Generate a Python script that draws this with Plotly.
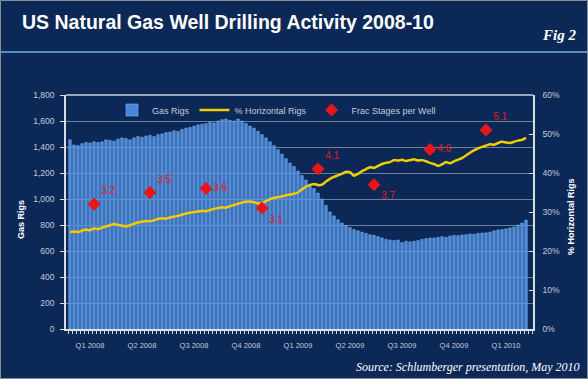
import plotly.graph_objects as go

# ---------------- data ----------------
gas_rigs = [1455, 1415, 1410, 1425, 1435, 1430, 1440, 1435, 1440, 1455,
            1450, 1445, 1460, 1470, 1465, 1455, 1470, 1480, 1475, 1485,
            1490, 1480, 1495, 1500, 1510, 1515, 1525, 1520, 1535, 1545,
            1550, 1560, 1570, 1575, 1580, 1590, 1585, 1600, 1610, 1615,
            1605, 1600, 1615, 1600, 1580, 1560, 1545, 1520, 1495, 1470,
            1440, 1410, 1380, 1345, 1310, 1277, 1250, 1215, 1180, 1146,
            1115, 1080, 1046, 1000, 950, 900, 870, 840, 815, 795,
            780, 765, 755, 745, 735, 725, 720, 710, 700, 690,
            685, 680, 685, 665, 675, 670, 675, 680, 690, 695,
            700, 700, 705, 710, 705, 715, 720, 718, 723, 725,
            730, 728, 735, 738, 740, 745, 755, 762, 765, 770,
            777, 785, 800, 815, 838]

pct_horizontal = [24.9, 25.0, 24.8, 25.2, 25.5, 25.3, 25.8, 25.6, 26.0, 26.3,
                  26.6, 26.9, 26.7, 26.5, 26.3, 26.6, 27.0, 27.3, 27.5, 27.7,
                  27.6, 27.9, 28.2, 28.4, 28.3, 28.6, 28.8, 29.0, 29.3, 29.6,
                  29.8, 30.0, 30.1, 30.3, 30.2, 30.5, 30.8, 31.0, 31.2, 31.1,
                  31.5, 31.8, 32.1, 32.4, 32.6, 32.7, 32.5, 32.2, 32.3, 32.8,
                  33.3, 33.6, 33.8, 34.0, 34.3, 34.5, 34.7, 35.0, 35.8, 36.5,
                  36.9, 37.2, 36.9, 37.0, 37.8, 38.5, 39.0, 39.4, 39.8, 40.3,
                  40.2, 39.3, 39.8, 40.5, 41.0, 41.5, 41.3, 41.8, 42.3, 42.6,
                  42.8, 43.3, 43.2, 43.4, 43.1, 43.3, 43.5, 43.2, 43.3, 43.0,
                  42.6, 42.3, 41.8, 42.2, 42.8, 42.5, 43.0, 43.4, 43.8, 44.5,
                  45.2, 45.8, 46.3, 46.7, 47.0, 47.4, 47.2, 47.7, 48.0, 47.8,
                  47.7, 48.0, 48.3, 48.5, 49.0]

frac_weeks = [6, 20, 34, 48, 62, 76, 90, 104]
frac_stages = [3.2, 3.5, 3.6, 3.1, 4.1, 3.7, 4.6, 5.1]
frac_text_pos = ["top right", "top right", "middle right", "bottom right",
                 "top right", "bottom right", "middle right", "top right"]

quarter_weeks = [5, 18, 31, 44, 57, 70, 83, 96, 109]
quarter_labels = ["Q1 2008", "Q2 2008", "Q3 2008", "Q4 2008", "Q1 2009",
                  "Q2 2009", "Q3 2009", "Q4 2009", "Q1 2010"]

left_ticks = list(range(0, 1801, 200))
right_ticks = list(range(0, 61, 10))
right_labels = [f"{v}%" for v in right_ticks]

weeks = list(range(len(gas_rigs)))

# ---------------- layout geometry ----------------
W, H = 588, 379
L, R, T, B = 66, 55, 95, 50
PW, PH = W - L - R, H - T - B


def px(x):
    return (x - L) / PW


def py(y):
    return (H - B - y) / PH


BG = "#0c2857"
TICK = "#c4ccd8"
SANS = "Liberation Sans, Arial, sans-serif"
SERIF = "Liberation Serif, Times New Roman, serif"

fig = go.Figure()

fig.add_trace(go.Bar(
    x=weeks, y=gas_rigs, name="Gas Rigs",
    marker=dict(color="#4687da", line=dict(color="#7db2f2", width=0.6)),
    yaxis="y",
))
fig.add_trace(go.Scatter(
    x=weeks, y=pct_horizontal, name="% Horizontal Rigs", mode="lines",
    line=dict(color="#f3cc00", width=2.5, shape="spline", smoothing=0.4),
    yaxis="y2",
))
fig.add_trace(go.Scatter(
    x=frac_weeks, y=frac_stages, name="Frac Stages per Well",
    mode="markers+text",
    marker=dict(symbol="diamond", color="#e8161a", size=10),
    text=[f"{v:.1f}" for v in frac_stages],
    textposition=frac_text_pos,
    textfont=dict(color="#e8161a", size=10, family=SANS),
    yaxis="y3",
))

fig.update_layout(
    width=W, height=H,
    margin=dict(l=L, r=R, t=T, b=B),
    paper_bgcolor=BG, plot_bgcolor=BG,
    bargap=0.38,
    showlegend=True,
    legend=dict(
        orientation="h", x=px(112), y=py(110), xanchor="left", yanchor="middle",
        bgcolor="rgba(0,0,0,0)", font=dict(color=TICK, size=9, family=SANS),
        itemwidth=30,
    ),
    xaxis=dict(
        range=[-1, 115.75], showgrid=False, zeroline=False,
        tickmode="array", tickvals=quarter_weeks, ticktext=quarter_labels,
        ticks="", tickfont=dict(color=TICK, size=7.5, family=SANS),
        ticklabelstandoff=8,
        showline=True, linecolor="#d8dee6", linewidth=1.5,
        minor=dict(tickmode="linear", tick0=-0.5, dtick=1, ticks="outside",
                   ticklen=3, tickcolor="#d8dee6", showgrid=False),
    ),
    yaxis=dict(
        range=[0, 1800], tickmode="array", tickvals=left_ticks,
        tickformat=",d", showgrid=True, gridcolor="#6a7f95", gridwidth=1,
        zeroline=False, showline=True, linecolor="#d8dee6", linewidth=1.5,
        ticks="outside", ticklen=4, tickcolor="#d8dee6", ticklabelstandoff=4,
        tickfont=dict(color=TICK, size=8.5, family=SANS),
    ),
    yaxis2=dict(
        range=[0, 60], tickmode="array", tickvals=right_ticks, ticktext=right_labels,
        overlaying="y", side="right", showgrid=False, zeroline=False,
        showline=True, linecolor="#d8dee6", linewidth=1.5,
        ticks="inside", ticklen=4, tickcolor="#d8dee6", ticklabelstandoff=6,
        tickfont=dict(color=TICK, size=8.5, family=SANS),
    ),
    yaxis3=dict(range=[0, 6], overlaying="y", visible=False),
)

shapes = [
    dict(type="line", xref="paper", yref="paper", x0=0, x1=1, y0=1, y1=1,
         line=dict(color="#c8d0da", width=1.5)),
    dict(type="line", xref="paper", yref="paper", x0=px(0), x1=px(W), y0=py(52), y1=py(52),
         line=dict(color="#5b8cc4", width=2)),
    dict(type="rect", xref="paper", yref="paper", x0=px(0.5), x1=px(W - 0.5),
         y0=py(H - 0.5), y1=py(0.5), line=dict(color="#8a8f96", width=1)),
]
fig.update_layout(shapes=shapes)

annotations = [
    dict(text="<b>US Natural Gas Well Drilling Activity 2008-10</b>",
         x=px(20), y=py(22), xref="paper", yref="paper", xanchor="left", yanchor="middle",
         showarrow=False, font=dict(color="white", size=19.5, family=SANS)),
    dict(text="<b><i>Fig 2</i></b>", x=px(578), y=py(35), xref="paper", yref="paper",
         xanchor="right", yanchor="middle", showarrow=False,
         font=dict(color="white", size=15, family=SERIF)),
    dict(text="<i>Source: Schlumberger presentation, May 2010</i>",
         x=px(582), y=py(367), xref="paper", yref="paper", xanchor="right", yanchor="middle",
         showarrow=False, font=dict(color="white", size=12, family=SERIF)),
    dict(text="<b>Gas Rigs</b>", x=px(21), y=py(220), xref="paper", yref="paper",
         xanchor="center", yanchor="middle", textangle=-90, showarrow=False,
         font=dict(color="white", size=9, family=SANS)),
    dict(text="<b>% Horizontal Rigs</b>", x=px(571), y=py(217), xref="paper", yref="paper",
         xanchor="center", yanchor="middle", textangle=-90, showarrow=False,
         font=dict(color="white", size=9, family=SANS)),
]
fig.update_layout(annotations=annotations)

fig.write_html("out.html", config={"displayModeBar": False},
               post_script="document.body.style.margin='0';")
